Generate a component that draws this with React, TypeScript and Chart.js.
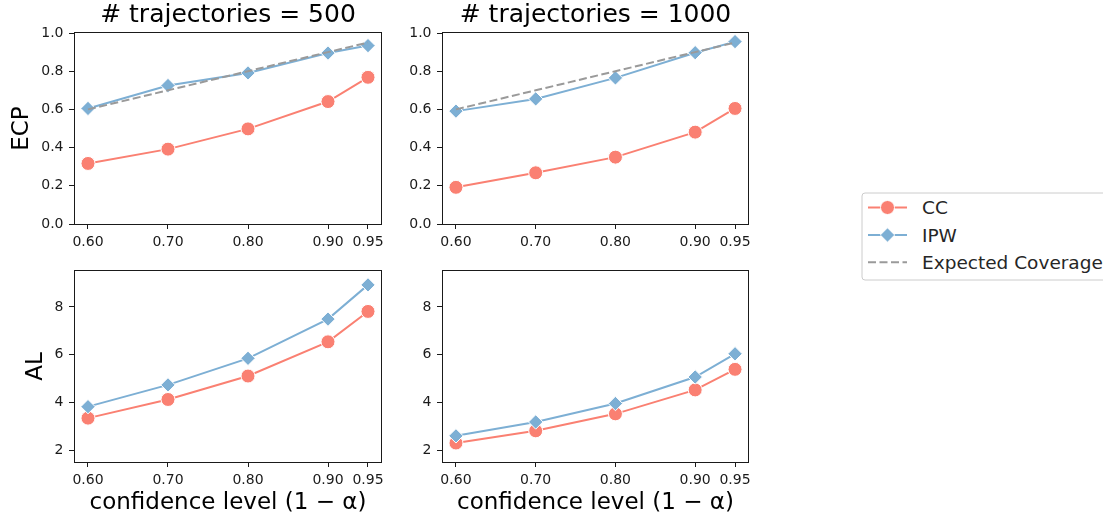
import React, { useEffect, useRef } from "react";
import { Chart, registerables } from "chart.js";

Chart.register(...registerables);
Chart.defaults.font.family = "'DejaVu Sans', sans-serif";

// ---------- data ----------
const levels = [0.6, 0.7, 0.8, 0.9, 0.95];
const xTickValues = [0.6, 0.7, 0.8, 0.9, 0.95];
const ecpTickValues = [0, 0.2, 0.4, 0.6, 0.8, 1.0];
const alTickValues = [2, 4, 6, 8];
const expectedCoverage = [0.6, 0.7, 0.8, 0.9, 0.95];

const ecpCC500 = [0.317, 0.392, 0.498, 0.641, 0.768];
const ecpIPW500 = [0.605, 0.725, 0.791, 0.895, 0.934];
const ecpCC1000 = [0.192, 0.268, 0.35, 0.481, 0.605];
const ecpIPW1000 = [0.591, 0.655, 0.765, 0.897, 0.955];
const alCC500 = [3.35, 4.13, 5.11, 6.54, 7.81];
const alIPW500 = [3.83, 4.74, 5.85, 7.49, 8.92];
const alCC1000 = [2.31, 2.82, 3.53, 4.53, 5.39];
const alIPW1000 = [2.61, 3.19, 3.96, 5.07, 6.04];

const panelTitles = ["# trajectories = 500", "# trajectories = 1000"];
const seriesNames = ["CC", "IPW", "Expected Coverage"];
const xLabel = "confidence level (1 − α)";
const yLabels = ["ECP", "AL"];

// ---------- style ----------
const CC_COLOR = "#FA8072";
const IPW_COLOR = "#7DAFD4";
const EXP_COLOR = "#9a9a9a";
const INK = "#1a1a1a";
const X_MIN = 0.5825;
const X_MAX = 0.9675;
const ECP_MIN = 0;
const ECP_MAX = 1.0;
const AL_MIN = 1.517;
const AL_MAX = 9.5;

type Spec = {
  left: number; top: number; width: number; height: number;
  area: { l: number; t: number; r: number; b: number };
  title?: string;
  yLabel?: string;
  yLabelPad?: number;
  xLabel?: string;
  cc: number[]; ipw: number[];
  expected: boolean;
  yMin: number; yMax: number; yTicks: number[]; yDecimals: number;
};

const framePlugin = {
  id: "frame",
  afterDatasetsDraw(chart: any) {
    const { ctx, chartArea } = chart;
    const { left, top, right, bottom } = chartArea;
    ctx.save();
    ctx.strokeStyle = INK;
    ctx.lineWidth = 1;
    ctx.strokeRect(left + 0.5, top - 0.5, right - left - 1, bottom - top + 1);
    ctx.restore();
  },
};

function Panel({ spec }: { spec: Spec }) {
  const ref = useRef<HTMLCanvasElement>(null);
  useEffect(() => {
    const s = spec;
    const yAxisW = s.area.l - s.left;
    const xAxisH = s.top + s.height - s.area.b;
    const padRight = s.left + s.width - s.area.r;
    const padTop = s.title ? 0 : s.area.t - s.top;
    const datasets: any[] = [];
    if (s.expected) {
      datasets.push({
        label: seriesNames[2],
        data: levels.map((x, i) => ({ x, y: expectedCoverage[i] })),
        borderColor: EXP_COLOR,
        borderWidth: 2,
        borderDash: [8, 3.5],
        pointRadius: 0,
        order: 0,
      });
    }
    datasets.push({
      label: seriesNames[1],
      data: levels.map((x, i) => ({ x, y: s.ipw[i] })),
      borderColor: IPW_COLOR,
      backgroundColor: IPW_COLOR,
      borderWidth: 2,
      pointStyle: "rectRot",
      pointRadius: 7.2,
      pointBorderColor: "#ffffff",
      pointBorderWidth: 1,
      pointBackgroundColor: IPW_COLOR,
      order: 1,
    });
    datasets.push({
      label: seriesNames[0],
      data: levels.map((x, i) => ({ x, y: s.cc[i] })),
      borderColor: CC_COLOR,
      backgroundColor: CC_COLOR,
      borderWidth: 2,
      pointStyle: "circle",
      pointRadius: 7,
      pointBorderColor: "#ffffff",
      pointBorderWidth: 1,
      pointBackgroundColor: CC_COLOR,
      order: 2,
    });

    const chart = new Chart(ref.current as HTMLCanvasElement, {
      type: "line",
      data: { datasets },
      options: {
        animation: false,
        responsive: false,
        devicePixelRatio: 1,
        layout: { padding: { left: 0, right: padRight, top: padTop, bottom: 0 } },
        plugins: {
          legend: { display: false },
          tooltip: { enabled: false },
          title: {
            display: !!s.title,
            text: s.title || "",
            fullSize: false,
            color: "#000",
            font: { size: 25, weight: "normal" },
            padding: { top: 0.9, bottom: 2.1 },
          },
        },
        scales: {
          x: {
            type: "linear",
            min: X_MIN,
            max: X_MAX,
            afterBuildTicks: (sc: any) => {
              sc.ticks = xTickValues.map((v) => ({ value: v }));
            },
            afterFit: (sc: any) => {
              sc.height = xAxisH;
            },
            ticks: {
              callback: (v: any) => Number(v).toFixed(2),
              color: INK,
              font: { size: 14 },
              padding: 5,
              autoSkip: false,
              maxRotation: 0,
              minRotation: 0,
            },
            grid: { drawOnChartArea: false, drawTicks: true, tickLength: 5, color: INK, lineWidth: 1 },
            border: { display: false },
            title: {
              display: !!s.xLabel,
              text: s.xLabel || "",
              color: "#000",
              font: { size: 23 },
              padding: { top: 0, bottom: 2 },
            },
          },
          y: {
            type: "linear",
            min: s.yMin,
            max: s.yMax,
            afterBuildTicks: (sc: any) => {
              sc.ticks = s.yTicks.map((v) => ({ value: v }));
            },
            afterFit: (sc: any) => {
              sc.width = yAxisW;
            },
            ticks: {
              callback: (v: any) => Number(v).toFixed(s.yDecimals),
              color: INK,
              font: { size: 14 },
              padding: 5.5,
              autoSkip: false,
            },
            grid: { drawOnChartArea: false, drawTicks: true, tickLength: 5, color: INK, lineWidth: 1 },
            border: { display: false },
            title: {
              display: !!s.yLabel,
              text: s.yLabel || "",
              color: "#000",
              font: { size: 23 },
              padding: { top: s.yLabelPad || 0, bottom: 0 },
            },
          },
        },
      } as any,
      plugins: [framePlugin],
    });
    return () => chart.destroy();
  }, [spec]);
  return (
    <canvas
      ref={ref}
      width={spec.width}
      height={spec.height}
      style={{ position: "absolute", left: spec.left, top: spec.top, width: spec.width, height: spec.height }}
    />
  );
}

const specs: Spec[] = [
  {
    left: 0, top: 0, width: 400, height: 250,
    area: { l: 74, t: 33, r: 382, b: 224 },
    title: panelTitles[0], yLabel: yLabels[0], yLabelPad: 8.7,
    cc: ecpCC500, ipw: ecpIPW500, expected: true,
    yMin: ECP_MIN, yMax: ECP_MAX, yTicks: ecpTickValues, yDecimals: 1,
  },
  {
    left: 400, top: 0, width: 400, height: 250,
    area: { l: 442, t: 33, r: 749, b: 224 },
    title: panelTitles[1],
    cc: ecpCC1000, ipw: ecpIPW1000, expected: true,
    yMin: ECP_MIN, yMax: ECP_MAX, yTicks: ecpTickValues, yDecimals: 1,
  },
  {
    left: 0, top: 250, width: 400, height: 269,
    area: { l: 74, t: 271, r: 382, b: 462 },
    yLabel: yLabels[1], yLabelPad: 22.7, xLabel: xLabel,
    cc: alCC500, ipw: alIPW500, expected: false,
    yMin: AL_MIN, yMax: AL_MAX, yTicks: alTickValues, yDecimals: 0,
  },
  {
    left: 400, top: 250, width: 400, height: 269,
    area: { l: 442, t: 271, r: 749, b: 462 },
    xLabel: xLabel,
    cc: alCC1000, ipw: alIPW1000, expected: false,
    yMin: AL_MIN, yMax: AL_MAX, yTicks: alTickValues, yDecimals: 0,
  },
];

function Legend() {
  const rows = [27.5, 55, 82.3];
  return (
    <svg
      width={253}
      height={120}
      style={{ position: "absolute", left: 850, top: 180 }}
      fontFamily="'DejaVu Sans', sans-serif"
    >
      <rect x={12} y={13} width={260} height={87} rx={3} ry={3} fill="#ffffff" stroke="#cccccc" strokeWidth={1} />
      <line x1={18} y1={rows[0]} x2={57} y2={rows[0]} stroke={CC_COLOR} strokeWidth={2} />
      <circle cx={37.5} cy={rows[0]} r={7} fill={CC_COLOR} stroke="#ffffff" strokeWidth={1} />
      <line x1={18} y1={rows[1]} x2={57} y2={rows[1]} stroke={IPW_COLOR} strokeWidth={2} />
      <polygon
        points={`${37.5 - 7.2},${rows[1]} ${37.5},${rows[1] - 7.2} ${37.5 + 7.2},${rows[1]} ${37.5},${rows[1] + 7.2}`}
        fill={IPW_COLOR}
        stroke="#ffffff"
        strokeWidth={1}
      />
      <line x1={18} y1={rows[2]} x2={57} y2={rows[2]} stroke={EXP_COLOR} strokeWidth={2} strokeDasharray="8 3.5" />
      {seriesNames.map((n, i) => (
        <text key={n} x={72} y={rows[i] + 6.8} fontSize={18.5} fill="#262626">
          {n}
        </text>
      ))}
    </svg>
  );
}

export default function App() {
  return (
    <div style={{ position: "absolute", left: 0, top: 0, width: 1103, height: 519, overflow: "hidden", background: "#fff" }}>
      {specs.map((s, i) => (
        <Panel key={i} spec={s} />
      ))}
      <Legend />
    </div>
  );
}
